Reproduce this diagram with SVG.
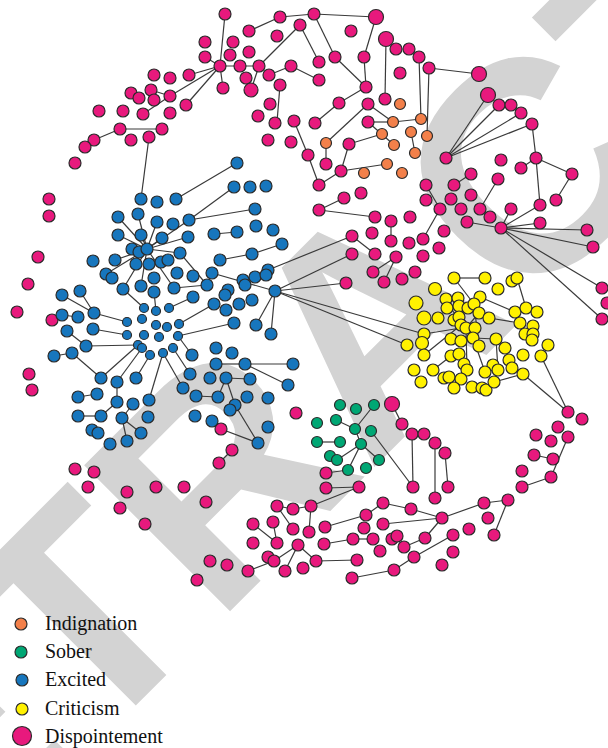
<svg xmlns="http://www.w3.org/2000/svg" width="608" height="748" viewBox="0 0 608 748">
<style>
circle{stroke:#2b2b2b;stroke-width:1.2}
.p{fill:#e8197d}.b{fill:#1776bd}.y{fill:#fff100}.g{fill:#00a774}.o{fill:#f3804a}
#edges line{stroke:#3a3a3a;stroke-width:1.2}
.wm{font-family:"Liberation Sans",Arial,sans-serif;font-weight:bold;font-size:300px;fill:#d3d3d3}
.lg{font-size:20px;fill:#111}
</style>
<rect width="608" height="748" fill="#fff"/>
<g id="watermark"><text class="wm" text-anchor="middle" transform="translate(370,320) rotate(-45)" y="107">RETRACTED</text></g>
<g id="edges">
<line x1="151" y1="90" x2="170" y2="96"/><line x1="143" y1="114" x2="170" y2="96"/><line x1="94" y1="140" x2="120" y2="129"/><line x1="120" y1="129" x2="162" y2="129"/><line x1="149" y1="137" x2="141" y2="199"/><line x1="176" y1="199" x2="237" y2="163"/>
<line x1="220" y1="66" x2="189" y2="75"/><line x1="220" y1="66" x2="170" y2="96"/><line x1="220" y1="66" x2="186" y2="105"/><line x1="220" y1="66" x2="205" y2="57"/>
<line x1="225" y1="14" x2="220" y2="66"/><line x1="249" y1="31" x2="280" y2="17"/><line x1="280" y1="17" x2="314" y2="14"/><line x1="314" y1="14" x2="376" y2="17"/><line x1="314" y1="14" x2="335" y2="57"/><line x1="376" y1="17" x2="364" y2="57"/><line x1="364" y1="57" x2="366" y2="87"/><line x1="335" y1="57" x2="366" y2="87"/><line x1="300" y1="25" x2="259" y2="66"/><line x1="300" y1="25" x2="319" y2="62"/><line x1="220" y1="66" x2="259" y2="66"/><line x1="220" y1="66" x2="223" y2="88"/><line x1="259" y1="66" x2="251" y2="90"/><line x1="269" y1="75" x2="291" y2="66"/><line x1="291" y1="66" x2="319" y2="80"/><line x1="280" y1="85" x2="277" y2="122"/><line x1="386" y1="39" x2="385" y2="99"/><line x1="366" y1="87" x2="339" y2="103"/><line x1="339" y1="103" x2="315" y2="123"/><line x1="368" y1="104" x2="326" y2="143"/><line x1="326" y1="143" x2="326" y2="164"/><line x1="294" y1="121" x2="308" y2="155"/><line x1="308" y1="155" x2="319" y2="185"/><line x1="319" y1="185" x2="341" y2="171"/><line x1="341" y1="171" x2="349" y2="144"/><line x1="349" y1="144" x2="382" y2="134"/><line x1="341" y1="171" x2="387" y2="164"/><line x1="368" y1="122" x2="393" y2="122"/><line x1="368" y1="104" x2="393" y2="122"/><line x1="368" y1="122" x2="394" y2="145"/><line x1="393" y1="122" x2="421" y2="119"/>
<line x1="419" y1="57" x2="421" y2="119"/><line x1="429" y1="68" x2="427" y2="136"/><line x1="429" y1="68" x2="479" y2="74"/><line x1="411" y1="132" x2="415" y2="153"/><line x1="446" y1="158" x2="488" y2="95"/><line x1="446" y1="158" x2="499" y2="105"/><line x1="446" y1="158" x2="521" y2="113"/><line x1="446" y1="158" x2="532" y2="124"/><line x1="532" y1="124" x2="536" y2="158"/><line x1="536" y1="158" x2="521" y2="168"/><line x1="536" y1="158" x2="572" y2="174"/><line x1="572" y1="174" x2="556" y2="200"/><line x1="536" y1="158" x2="540" y2="205"/><line x1="498" y1="179" x2="480" y2="209"/><line x1="426" y1="185" x2="440" y2="209"/><line x1="454" y1="185" x2="471" y2="174"/>
<line x1="501" y1="228" x2="540" y2="223"/><line x1="501" y1="228" x2="587" y2="230"/><line x1="501" y1="228" x2="593" y2="247"/><line x1="501" y1="228" x2="602" y2="288"/><line x1="501" y1="228" x2="602" y2="319"/><line x1="501" y1="228" x2="511" y2="209"/><line x1="501" y1="228" x2="540" y2="205"/><line x1="501" y1="228" x2="467" y2="222"/><line x1="440" y1="209" x2="423" y2="239"/>
<line x1="319" y1="210" x2="344" y2="198"/><line x1="319" y1="210" x2="375" y2="217"/><line x1="352" y1="236" x2="375" y2="254"/><line x1="373" y1="272" x2="396" y2="257"/><line x1="384" y1="282" x2="396" y2="257"/><line x1="391" y1="241" x2="391" y2="221"/>
<line x1="147" y1="249" x2="118" y2="217"/><line x1="147" y1="249" x2="138" y2="214"/><line x1="147" y1="249" x2="157" y2="222"/><line x1="147" y1="249" x2="118" y2="235"/><line x1="147" y1="249" x2="141" y2="235"/><line x1="147" y1="249" x2="115" y2="260"/><line x1="147" y1="249" x2="106" y2="274"/><line x1="147" y1="249" x2="123" y2="289"/><line x1="147" y1="249" x2="141" y2="286"/><line x1="147" y1="249" x2="174" y2="288"/><line x1="147" y1="249" x2="180" y2="253"/><line x1="147" y1="249" x2="188" y2="237"/><line x1="147" y1="249" x2="189" y2="220"/><line x1="147" y1="249" x2="162" y2="238"/>
<line x1="189" y1="220" x2="255" y2="209"/><line x1="234" y1="187" x2="189" y2="220"/><line x1="214" y1="234" x2="237" y2="232"/><line x1="220" y1="260" x2="252" y2="254"/><line x1="252" y1="254" x2="282" y2="244"/><line x1="268" y1="270" x2="352" y2="236"/><line x1="275" y1="291" x2="352" y2="254"/><line x1="275" y1="291" x2="346" y2="283"/><line x1="275" y1="291" x2="424" y2="334"/><line x1="275" y1="291" x2="407" y2="345"/><line x1="275" y1="291" x2="256" y2="325"/><line x1="275" y1="291" x2="271" y2="334"/><line x1="275" y1="291" x2="212" y2="273"/>
<line x1="180" y1="253" x2="207" y2="285"/><line x1="174" y1="288" x2="207" y2="285"/><line x1="144" y1="308" x2="123" y2="289"/><line x1="154" y1="292" x2="156" y2="311"/><line x1="169" y1="308" x2="193" y2="297"/><line x1="179" y1="324" x2="214" y2="304"/><line x1="178" y1="336" x2="234" y2="323"/><line x1="62" y1="295" x2="94" y2="313"/><line x1="80" y1="291" x2="94" y2="313"/><line x1="94" y1="313" x2="127" y2="322"/><line x1="62" y1="315" x2="78" y2="317"/><line x1="67" y1="331" x2="86" y2="346"/><line x1="93" y1="329" x2="127" y2="335"/><line x1="86" y1="346" x2="138" y2="345"/><line x1="54" y1="356" x2="72" y2="353"/><line x1="72" y1="353" x2="101" y2="378"/><line x1="101" y1="378" x2="138" y2="345"/><line x1="117" y1="382" x2="142" y2="348"/><line x1="136" y1="378" x2="150" y2="355"/><line x1="163" y1="353" x2="149" y2="400"/><line x1="163" y1="353" x2="183" y2="388"/><line x1="173" y1="348" x2="190" y2="374"/><line x1="178" y1="336" x2="192" y2="355"/><line x1="78" y1="397" x2="97" y2="394"/><line x1="117" y1="382" x2="117" y2="402"/><line x1="196" y1="396" x2="218" y2="397"/><line x1="216" y1="364" x2="245" y2="364"/><line x1="245" y1="364" x2="293" y2="364"/><line x1="245" y1="364" x2="288" y2="385"/><line x1="226" y1="378" x2="250" y2="379"/><line x1="226" y1="378" x2="218" y2="397"/><line x1="226" y1="378" x2="235" y2="405"/><line x1="78" y1="416" x2="101" y2="416"/><line x1="101" y1="416" x2="117" y2="402"/><line x1="122" y1="418" x2="127" y2="441"/><line x1="122" y1="418" x2="141" y2="433"/><line x1="122" y1="418" x2="133" y2="404"/><line x1="235" y1="405" x2="258" y2="443"/><line x1="221" y1="429" x2="258" y2="443"/><line x1="232" y1="450" x2="219" y2="463"/>
<line x1="336" y1="420" x2="355" y2="429"/><line x1="374" y1="405" x2="355" y2="429"/><line x1="317" y1="442" x2="340" y2="442"/><line x1="355" y1="429" x2="361" y2="444"/><line x1="361" y1="444" x2="337" y2="460"/><line x1="361" y1="444" x2="348" y2="470"/><line x1="361" y1="444" x2="379" y2="460"/><line x1="371" y1="431" x2="413" y2="487"/><line x1="326" y1="473" x2="348" y2="470"/><line x1="326" y1="488" x2="359" y2="487"/><line x1="359" y1="487" x2="311" y2="506"/>
<line x1="277" y1="506" x2="293" y2="509"/><line x1="293" y1="509" x2="311" y2="506"/><line x1="311" y1="506" x2="309" y2="532"/><line x1="273" y1="522" x2="277" y2="543"/><line x1="253" y1="524" x2="277" y2="543"/><line x1="277" y1="506" x2="293" y2="529"/><line x1="298" y1="545" x2="285" y2="571"/><line x1="298" y1="545" x2="274" y2="561"/><line x1="298" y1="545" x2="316" y2="561"/><line x1="248" y1="571" x2="274" y2="561"/><line x1="325" y1="527" x2="366" y2="515"/><line x1="366" y1="515" x2="383" y2="503"/><line x1="383" y1="503" x2="411" y2="509"/><line x1="383" y1="524" x2="442" y2="518"/><line x1="324" y1="544" x2="353" y2="539"/><line x1="353" y1="539" x2="373" y2="539"/><line x1="316" y1="561" x2="357" y2="560"/><line x1="352" y1="578" x2="394" y2="570"/><line x1="394" y1="570" x2="414" y2="557"/><line x1="392" y1="404" x2="402" y2="424"/>
<line x1="412" y1="434" x2="413" y2="487"/><line x1="435" y1="443" x2="435" y2="498"/><line x1="445" y1="453" x2="448" y2="487"/><line x1="411" y1="509" x2="442" y2="518"/><line x1="442" y1="518" x2="484" y2="503"/><line x1="484" y1="503" x2="508" y2="500"/><line x1="508" y1="500" x2="494" y2="535"/><line x1="442" y1="518" x2="425" y2="538"/><line x1="425" y1="538" x2="404" y2="547"/><line x1="414" y1="557" x2="453" y2="535"/><line x1="522" y1="487" x2="551" y2="477"/><line x1="551" y1="477" x2="568" y2="437"/><line x1="534" y1="455" x2="553" y2="459"/>
<line x1="454" y1="278" x2="485" y2="278"/><line x1="454" y1="278" x2="474" y2="304"/><line x1="517" y1="278" x2="526" y2="308"/><line x1="480" y1="297" x2="515" y2="312"/><line x1="489" y1="318" x2="520" y2="323"/><line x1="424" y1="334" x2="461" y2="328"/><line x1="424" y1="355" x2="461" y2="325"/><line x1="473" y1="338" x2="485" y2="372"/><line x1="466" y1="328" x2="467" y2="370"/><line x1="473" y1="338" x2="496" y2="339"/><line x1="496" y1="339" x2="498" y2="370"/><line x1="523" y1="374" x2="494" y2="382"/><line x1="523" y1="374" x2="568" y2="412"/><line x1="541" y1="356" x2="568" y2="412"/><line x1="433" y1="370" x2="451" y2="356"/><line x1="446" y1="299" x2="461" y2="325"/><line x1="474" y1="304" x2="479" y2="346"/><line x1="479" y1="313" x2="466" y2="328"/>
</g>
<g id="pink">
<g id="p1"><circle class="p" cx="154" cy="75" r="6"/></g><g id="p2"><circle class="p" cx="170" cy="78" r="6"/></g><g id="p3"><circle class="p" cx="189" cy="75" r="6"/></g><g id="p4"><circle class="p" cx="131" cy="93" r="6"/></g><g id="p5"><circle class="p" cx="139" cy="98" r="6"/></g><g id="p6"><circle class="p" cx="151" cy="90" r="6"/></g><g id="p7"><circle class="p" cx="154" cy="100" r="6"/></g><g id="p8"><circle class="p" cx="170" cy="96" r="6"/></g><g id="p9"><circle class="p" cx="186" cy="105" r="6"/></g><g id="p10"><circle class="p" cx="99" cy="111" r="6"/></g><g id="p11"><circle class="p" cx="123" cy="111" r="6"/></g><g id="p12"><circle class="p" cx="143" cy="114" r="6"/></g><g id="p13"><circle class="p" cx="170" cy="113" r="6"/></g><g id="p14"><circle class="p" cx="120" cy="129" r="6"/></g><g id="p15"><circle class="p" cx="162" cy="129" r="6"/></g><g id="p16"><circle class="p" cx="94" cy="140" r="6"/></g><g id="p17"><circle class="p" cx="85" cy="147" r="6"/></g><g id="p18"><circle class="p" cx="131" cy="140" r="6"/></g><g id="p19"><circle class="p" cx="149" cy="137" r="6"/></g><g id="p20"><circle class="p" cx="75" cy="163" r="6"/></g><g id="p21"><circle class="p" cx="49" cy="199" r="6"/></g>
<g id="p22"><circle class="p" cx="225" cy="14" r="6"/></g><g id="p23"><circle class="p" cx="280" cy="17" r="6"/></g><g id="p24"><circle class="p" cx="314" cy="14" r="6"/></g><g id="p25"><circle class="p" cx="376" cy="17" r="7.5"/></g><g id="p26"><circle class="p" cx="249" cy="31" r="6"/></g><g id="p27"><circle class="p" cx="300" cy="25" r="6"/></g><g id="p28"><circle class="p" cx="351" cy="31" r="6"/></g><g id="p29"><circle class="p" cx="277" cy="36" r="6"/></g><g id="p30"><circle class="p" cx="386" cy="39" r="7.5"/></g><g id="p31"><circle class="p" cx="396" cy="49" r="6"/></g><g id="p32"><circle class="p" cx="409" cy="49" r="6"/></g><g id="p33"><circle class="p" cx="205" cy="42" r="6"/></g><g id="p34"><circle class="p" cx="233" cy="42" r="6"/></g><g id="p35"><circle class="p" cx="249" cy="52" r="6"/></g><g id="p36"><circle class="p" cx="230" cy="55" r="6"/></g><g id="p37"><circle class="p" cx="205" cy="57" r="6"/></g><g id="p38"><circle class="p" cx="220" cy="66" r="6"/></g><g id="p39"><circle class="p" cx="240" cy="66" r="6"/></g><g id="p40"><circle class="p" cx="259" cy="66" r="6"/></g><g id="p41"><circle class="p" cx="291" cy="66" r="6"/></g><g id="p42"><circle class="p" cx="319" cy="62" r="6"/></g><g id="p43"><circle class="p" cx="335" cy="57" r="6"/></g><g id="p44"><circle class="p" cx="364" cy="57" r="6"/></g><g id="p45"><circle class="p" cx="400" cy="73" r="6"/></g><g id="p46"><circle class="p" cx="269" cy="75" r="6"/></g><g id="p47"><circle class="p" cx="280" cy="85" r="6"/></g><g id="p48"><circle class="p" cx="246" cy="78" r="6"/></g><g id="p49"><circle class="p" cx="223" cy="88" r="6"/></g><g id="p50"><circle class="p" cx="251" cy="90" r="7"/></g><g id="p51"><circle class="p" cx="319" cy="80" r="6"/></g><g id="p52"><circle class="p" cx="366" cy="87" r="6"/></g><g id="p53"><circle class="p" cx="385" cy="99" r="6"/></g><g id="p54"><circle class="p" cx="270" cy="104" r="6"/></g><g id="p55"><circle class="p" cx="258" cy="116" r="6"/></g><g id="p56"><circle class="p" cx="275" cy="123" r="6"/></g><g id="p57"><circle class="p" cx="294" cy="121" r="6"/></g><g id="p58"><circle class="p" cx="315" cy="123" r="6"/></g><g id="p59"><circle class="p" cx="339" cy="103" r="6"/></g><g id="p60"><circle class="p" cx="368" cy="104" r="6"/></g><g id="p61"><circle class="p" cx="368" cy="122" r="6"/></g><g id="p62"><circle class="p" cx="268" cy="140" r="6"/></g><g id="p63"><circle class="p" cx="291" cy="142" r="6"/></g><g id="p64"><circle class="p" cx="349" cy="144" r="6"/></g><g id="p65"><circle class="p" cx="308" cy="155" r="6"/></g><g id="p66"><circle class="p" cx="326" cy="164" r="6"/></g><g id="p67"><circle class="p" cx="341" cy="171" r="6"/></g><g id="p68"><circle class="p" cx="319" cy="185" r="6"/></g><g id="p69"><circle class="p" cx="344" cy="198" r="6"/></g><g id="p70"><circle class="p" cx="361" cy="193" r="6"/></g>
<g id="p71"><circle class="p" cx="419" cy="57" r="6"/></g><g id="p72"><circle class="p" cx="429" cy="68" r="6"/></g><g id="p73"><circle class="p" cx="479" cy="74" r="7.5"/></g><g id="p74"><circle class="p" cx="488" cy="95" r="7.5"/></g><g id="p75"><circle class="p" cx="499" cy="105" r="6"/></g><g id="p76"><circle class="p" cx="511" cy="105" r="6"/></g><g id="p77"><circle class="p" cx="521" cy="113" r="6"/></g><g id="p78"><circle class="p" cx="532" cy="124" r="6"/></g><g id="p79"><circle class="p" cx="446" cy="158" r="6"/></g><g id="p80"><circle class="p" cx="501" cy="160" r="6"/></g><g id="p81"><circle class="p" cx="536" cy="158" r="6"/></g><g id="p82"><circle class="p" cx="521" cy="168" r="6"/></g><g id="p83"><circle class="p" cx="572" cy="174" r="6"/></g><g id="p84"><circle class="p" cx="471" cy="174" r="6"/></g><g id="p85"><circle class="p" cx="454" cy="185" r="6"/></g><g id="p86"><circle class="p" cx="426" cy="185" r="6"/></g><g id="p87"><circle class="p" cx="498" cy="179" r="6"/></g><g id="p88"><circle class="p" cx="471" cy="195" r="6"/></g><g id="p89"><circle class="p" cx="451" cy="199" r="6"/></g><g id="p90"><circle class="p" cx="426" cy="200" r="6"/></g><g id="p91"><circle class="p" cx="556" cy="200" r="6"/></g>
<g id="p92"><circle class="p" cx="440" cy="209" r="6"/></g><g id="p93"><circle class="p" cx="461" cy="209" r="6"/></g><g id="p94"><circle class="p" cx="480" cy="209" r="6"/></g><g id="p95"><circle class="p" cx="490" cy="217" r="6"/></g><g id="p96"><circle class="p" cx="511" cy="209" r="6"/></g><g id="p97"><circle class="p" cx="540" cy="205" r="6"/></g><g id="p98"><circle class="p" cx="410" cy="217" r="6"/></g><g id="p99"><circle class="p" cx="467" cy="222" r="6"/></g><g id="p100"><circle class="p" cx="501" cy="228" r="6"/></g><g id="p101"><circle class="p" cx="540" cy="223" r="6"/></g><g id="p102"><circle class="p" cx="587" cy="230" r="6"/></g><g id="p103"><circle class="p" cx="593" cy="247" r="6"/></g><g id="p104"><circle class="p" cx="444" cy="231" r="6"/></g><g id="p105"><circle class="p" cx="423" cy="239" r="6"/></g><g id="p106"><circle class="p" cx="409" cy="243" r="6"/></g><g id="p107"><circle class="p" cx="439" cy="248" r="6"/></g><g id="p108"><circle class="p" cx="423" cy="256" r="6"/></g><g id="p109"><circle class="p" cx="415" cy="272" r="6"/></g><g id="p110"><circle class="p" cx="402" cy="279" r="6"/></g><g id="p111"><circle class="p" cx="602" cy="288" r="6"/></g><g id="p112"><circle class="p" cx="607" cy="303" r="6"/></g><g id="p113"><circle class="p" cx="602" cy="319" r="6"/></g>
<g id="p114"><circle class="p" cx="319" cy="210" r="6"/></g><g id="p115"><circle class="p" cx="375" cy="217" r="6"/></g><g id="p116"><circle class="p" cx="391" cy="221" r="6"/></g><g id="p117"><circle class="p" cx="352" cy="236" r="6"/></g><g id="p118"><circle class="p" cx="372" cy="233" r="6"/></g><g id="p119"><circle class="p" cx="391" cy="241" r="6"/></g><g id="p120"><circle class="p" cx="352" cy="254" r="6"/></g><g id="p121"><circle class="p" cx="375" cy="254" r="6"/></g><g id="p122"><circle class="p" cx="396" cy="257" r="6"/></g><g id="p123"><circle class="p" cx="373" cy="272" r="6"/></g><g id="p124"><circle class="p" cx="384" cy="282" r="6"/></g><g id="p125"><circle class="p" cx="346" cy="283" r="6"/></g>
<g id="p126"><circle class="p" cx="49" cy="216" r="6"/></g><g id="p127"><circle class="p" cx="38" cy="257" r="6"/></g><g id="p128"><circle class="p" cx="28" cy="284" r="6"/></g><g id="p129"><circle class="p" cx="17" cy="312" r="6"/></g><g id="p130"><circle class="p" cx="52" cy="320" r="6"/></g><g id="p131"><circle class="p" cx="29" cy="374" r="6"/></g><g id="p132"><circle class="p" cx="32" cy="390" r="6"/></g>
<g id="p133"><circle class="p" cx="75" cy="469" r="6"/></g><g id="p134"><circle class="p" cx="94" cy="472" r="6"/></g><g id="p135"><circle class="p" cx="88" cy="487" r="6"/></g><g id="p136"><circle class="p" cx="127" cy="492" r="6"/></g><g id="p137"><circle class="p" cx="156" cy="487" r="6"/></g><g id="p138"><circle class="p" cx="184" cy="487" r="6"/></g><g id="p139"><circle class="p" cx="120" cy="508" r="6"/></g><g id="p140"><circle class="p" cx="145" cy="524" r="6"/></g><g id="p141"><circle class="p" cx="197" cy="580" r="6"/></g><g id="p142"><circle class="p" cx="206" cy="502" r="6"/></g>
<g id="p143"><circle class="p" cx="296" cy="413" r="6"/></g><g id="p144"><circle class="p" cx="221" cy="429" r="6"/></g><g id="p145"><circle class="p" cx="232" cy="450" r="6"/></g><g id="p146"><circle class="p" cx="219" cy="463" r="6"/></g><g id="p147"><circle class="p" cx="392" cy="404" r="7.5"/></g><g id="p148"><circle class="p" cx="402" cy="424" r="6"/></g><g id="p149"><circle class="p" cx="277" cy="506" r="6"/></g><g id="p150"><circle class="p" cx="293" cy="509" r="6"/></g><g id="p151"><circle class="p" cx="311" cy="506" r="6"/></g><g id="p152"><circle class="p" cx="383" cy="503" r="6"/></g><g id="p153"><circle class="p" cx="253" cy="524" r="6"/></g><g id="p154"><circle class="p" cx="273" cy="522" r="6"/></g><g id="p155"><circle class="p" cx="293" cy="529" r="6"/></g><g id="p156"><circle class="p" cx="309" cy="532" r="6"/></g><g id="p157"><circle class="p" cx="325" cy="527" r="6"/></g><g id="p158"><circle class="p" cx="366" cy="515" r="6"/></g><g id="p159"><circle class="p" cx="383" cy="524" r="6"/></g><g id="p160"><circle class="p" cx="364" cy="528" r="6"/></g><g id="p161"><circle class="p" cx="253" cy="543" r="6"/></g><g id="p162"><circle class="p" cx="277" cy="543" r="6"/></g><g id="p163"><circle class="p" cx="298" cy="545" r="6"/></g><g id="p164"><circle class="p" cx="324" cy="544" r="6"/></g><g id="p165"><circle class="p" cx="353" cy="539" r="6"/></g><g id="p166"><circle class="p" cx="373" cy="539" r="6"/></g><g id="p167"><circle class="p" cx="392" cy="539" r="6"/></g><g id="p168"><circle class="p" cx="397" cy="536" r="6"/></g><g id="p169"><circle class="p" cx="380" cy="551" r="6"/></g><g id="p170"><circle class="p" cx="268" cy="557" r="6"/></g><g id="p171"><circle class="p" cx="274" cy="561" r="6"/></g><g id="p172"><circle class="p" cx="210" cy="561" r="6"/></g><g id="p173"><circle class="p" cx="227" cy="565" r="6"/></g><g id="p174"><circle class="p" cx="248" cy="571" r="6"/></g><g id="p175"><circle class="p" cx="285" cy="571" r="6"/></g><g id="p176"><circle class="p" cx="303" cy="568" r="6"/></g><g id="p177"><circle class="p" cx="316" cy="561" r="6"/></g><g id="p178"><circle class="p" cx="357" cy="560" r="6"/></g><g id="p179"><circle class="p" cx="394" cy="570" r="6"/></g><g id="p180"><circle class="p" cx="352" cy="578" r="6"/></g><g id="p181"><circle class="p" cx="326" cy="473" r="6"/></g><g id="p182"><circle class="p" cx="326" cy="488" r="6"/></g><g id="p183"><circle class="p" cx="359" cy="487" r="6"/></g>
<g id="p184"><circle class="p" cx="568" cy="412" r="6"/></g><g id="p185"><circle class="p" cx="582" cy="419" r="6"/></g><g id="p186"><circle class="p" cx="558" cy="427" r="6"/></g><g id="p187"><circle class="p" cx="536" cy="435" r="6"/></g><g id="p188"><circle class="p" cx="551" cy="441" r="6"/></g><g id="p189"><circle class="p" cx="568" cy="437" r="6"/></g><g id="p190"><circle class="p" cx="534" cy="455" r="6"/></g><g id="p191"><circle class="p" cx="553" cy="459" r="6"/></g><g id="p192"><circle class="p" cx="522" cy="471" r="6"/></g><g id="p193"><circle class="p" cx="551" cy="477" r="6"/></g><g id="p194"><circle class="p" cx="522" cy="487" r="6"/></g><g id="p195"><circle class="p" cx="412" cy="434" r="6"/></g><g id="p196"><circle class="p" cx="424" cy="434" r="6"/></g><g id="p197"><circle class="p" cx="435" cy="443" r="6"/></g><g id="p198"><circle class="p" cx="445" cy="453" r="6"/></g><g id="p199"><circle class="p" cx="413" cy="487" r="6"/></g><g id="p200"><circle class="p" cx="448" cy="487" r="6"/></g><g id="p201"><circle class="p" cx="435" cy="498" r="6"/></g><g id="p202"><circle class="p" cx="411" cy="509" r="6"/></g><g id="p203"><circle class="p" cx="442" cy="518" r="6"/></g><g id="p204"><circle class="p" cx="484" cy="503" r="6"/></g><g id="p205"><circle class="p" cx="508" cy="500" r="6"/></g><g id="p206"><circle class="p" cx="488" cy="518" r="6"/></g><g id="p207"><circle class="p" cx="469" cy="529" r="6"/></g><g id="p208"><circle class="p" cx="494" cy="535" r="6"/></g><g id="p209"><circle class="p" cx="453" cy="535" r="6"/></g><g id="p210"><circle class="p" cx="425" cy="538" r="6"/></g><g id="p211"><circle class="p" cx="453" cy="552" r="6"/></g><g id="p212"><circle class="p" cx="414" cy="557" r="6"/></g><g id="p213"><circle class="p" cx="442" cy="565" r="6"/></g><g id="p214"><circle class="p" cx="404" cy="547" r="6"/></g>
</g>
<g id="orange">
<g id="o1"><circle class="o" cx="400" cy="104" r="5.5"/></g><g id="o2"><circle class="o" cx="393" cy="122" r="5.5"/></g><g id="o3"><circle class="o" cx="382" cy="134" r="5.5"/></g><g id="o4"><circle class="o" cx="394" cy="145" r="5.5"/></g><g id="o5"><circle class="o" cx="326" cy="143" r="5.5"/></g><g id="o6"><circle class="o" cx="364" cy="173" r="5.5"/></g><g id="o7"><circle class="o" cx="387" cy="164" r="5.5"/></g><g id="o8"><circle class="o" cx="402" cy="173" r="5.5"/></g><g id="o9"><circle class="o" cx="421" cy="119" r="5.5"/></g><g id="o10"><circle class="o" cx="411" cy="132" r="5.5"/></g><g id="o11"><circle class="o" cx="427" cy="136" r="5.5"/></g><g id="o12"><circle class="o" cx="415" cy="153" r="5.5"/></g>
</g>
<g id="blue">
<g id="b1"><circle class="b" cx="141" cy="199" r="6"/></g><g id="b2"><circle class="b" cx="157" cy="202" r="6"/></g><g id="b3"><circle class="b" cx="176" cy="199" r="6"/></g><g id="b4"><circle class="b" cx="237" cy="163" r="6"/></g><g id="b5"><circle class="b" cx="234" cy="187" r="6"/></g><g id="b6"><circle class="b" cx="250" cy="187" r="6"/></g><g id="b7"><circle class="b" cx="266" cy="186" r="6"/></g>
<g id="b8"><circle class="b" cx="118" cy="217" r="6"/></g><g id="b9"><circle class="b" cx="138" cy="214" r="6"/></g><g id="b10"><circle class="b" cx="157" cy="222" r="6"/></g><g id="b11"><circle class="b" cx="173" cy="224" r="6"/></g><g id="b12"><circle class="b" cx="189" cy="220" r="6"/></g><g id="b13"><circle class="b" cx="118" cy="235" r="6"/></g><g id="b14"><circle class="b" cx="141" cy="235" r="6"/></g><g id="b15"><circle class="b" cx="162" cy="238" r="6"/></g><g id="b16"><circle class="b" cx="188" cy="237" r="6"/></g><g id="b17"><circle class="b" cx="214" cy="234" r="6"/></g><g id="b18"><circle class="b" cx="132" cy="249" r="6"/></g><g id="b19"><circle class="b" cx="139" cy="252" r="6"/></g><g id="b20"><circle class="b" cx="147" cy="249" r="6"/></g><g id="b21"><circle class="b" cx="180" cy="253" r="6"/></g><g id="b22"><circle class="b" cx="93" cy="261" r="6"/></g><g id="b23"><circle class="b" cx="115" cy="260" r="6"/></g><g id="b24"><circle class="b" cx="136" cy="264" r="6"/></g><g id="b25"><circle class="b" cx="149" cy="264" r="6"/></g><g id="b26"><circle class="b" cx="161" cy="262" r="6"/></g><g id="b27"><circle class="b" cx="168" cy="260" r="6"/></g><g id="b28"><circle class="b" cx="106" cy="274" r="6"/></g><g id="b29"><circle class="b" cx="112" cy="278" r="6"/></g><g id="b30"><circle class="b" cx="154" cy="278" r="6"/></g><g id="b31"><circle class="b" cx="177" cy="273" r="6"/></g><g id="b32"><circle class="b" cx="193" cy="276" r="6"/></g><g id="b33"><circle class="b" cx="212" cy="273" r="6"/></g><g id="b34"><circle class="b" cx="123" cy="289" r="6"/></g><g id="b35"><circle class="b" cx="141" cy="286" r="6"/></g><g id="b36"><circle class="b" cx="154" cy="292" r="6"/></g><g id="b37"><circle class="b" cx="174" cy="288" r="6"/></g><g id="b38"><circle class="b" cx="207" cy="285" r="6"/></g><g id="b39"><circle class="b" cx="62" cy="295" r="6"/></g><g id="b40"><circle class="b" cx="80" cy="291" r="6"/></g><g id="b41"><circle class="b" cx="193" cy="297" r="6"/></g><g id="b42"><circle class="b" cx="214" cy="304" r="6"/></g><g id="b43"><circle class="b" cx="94" cy="313" r="6"/></g><g id="b44"><circle class="b" cx="62" cy="315" r="6"/></g><g id="b45"><circle class="b" cx="78" cy="317" r="6"/></g><g id="b46"><circle class="b" cx="67" cy="331" r="6"/></g><g id="b47"><circle class="b" cx="93" cy="329" r="6"/></g><g id="b48"><circle class="b" cx="86" cy="346" r="6"/></g><g id="b49"><circle class="b" cx="54" cy="356" r="6"/></g><g id="b50"><circle class="b" cx="72" cy="353" r="6"/></g>
<g id="b51"><circle class="b" cx="144" cy="308" r="4.5"/></g><g id="b52"><circle class="b" cx="156" cy="311" r="4.5"/></g><g id="b53"><circle class="b" cx="169" cy="308" r="4.5"/></g><g id="b54"><circle class="b" cx="127" cy="322" r="4.5"/></g><g id="b55"><circle class="b" cx="142" cy="319" r="4.5"/></g><g id="b56"><circle class="b" cx="156" cy="325" r="4.5"/></g><g id="b57"><circle class="b" cx="167" cy="327" r="4.5"/></g><g id="b58"><circle class="b" cx="179" cy="324" r="4.5"/></g><g id="b59"><circle class="b" cx="127" cy="335" r="4.5"/></g><g id="b60"><circle class="b" cx="144" cy="335" r="4.5"/></g><g id="b61"><circle class="b" cx="159" cy="337" r="4.5"/></g><g id="b62"><circle class="b" cx="178" cy="336" r="4.5"/></g><g id="b63"><circle class="b" cx="138" cy="345" r="4.5"/></g><g id="b64"><circle class="b" cx="142" cy="348" r="4.5"/></g><g id="b65"><circle class="b" cx="150" cy="355" r="4.5"/></g><g id="b66"><circle class="b" cx="163" cy="353" r="4.5"/></g><g id="b67"><circle class="b" cx="173" cy="348" r="4.5"/></g>
<g id="b68"><circle class="b" cx="192" cy="355" r="6"/></g><g id="b69"><circle class="b" cx="216" cy="348" r="6"/></g><g id="b70"><circle class="b" cx="101" cy="378" r="6"/></g><g id="b71"><circle class="b" cx="117" cy="382" r="6"/></g><g id="b72"><circle class="b" cx="136" cy="378" r="6"/></g><g id="b73"><circle class="b" cx="190" cy="374" r="6"/></g><g id="b74"><circle class="b" cx="210" cy="378" r="6"/></g><g id="b75"><circle class="b" cx="97" cy="394" r="6"/></g><g id="b76"><circle class="b" cx="78" cy="397" r="6"/></g><g id="b77"><circle class="b" cx="117" cy="402" r="6"/></g><g id="b78"><circle class="b" cx="133" cy="404" r="6"/></g><g id="b79"><circle class="b" cx="149" cy="400" r="6"/></g><g id="b80"><circle class="b" cx="183" cy="388" r="6"/></g><g id="b81"><circle class="b" cx="196" cy="396" r="6"/></g><g id="b82"><circle class="b" cx="218" cy="397" r="6"/></g><g id="b83"><circle class="b" cx="216" cy="364" r="6"/></g>
<g id="b84"><circle class="b" cx="255" cy="209" r="6"/></g><g id="b85"><circle class="b" cx="256" cy="226" r="6"/></g><g id="b86"><circle class="b" cx="273" cy="230" r="6"/></g><g id="b87"><circle class="b" cx="237" cy="232" r="6"/></g><g id="b88"><circle class="b" cx="282" cy="244" r="6"/></g><g id="b89"><circle class="b" cx="252" cy="254" r="6"/></g><g id="b90"><circle class="b" cx="220" cy="260" r="6"/></g><g id="b91"><circle class="b" cx="268" cy="270" r="6"/></g><g id="b92"><circle class="b" cx="255" cy="277" r="6"/></g><g id="b93"><circle class="b" cx="266" cy="275" r="6"/></g><g id="b94"><circle class="b" cx="243" cy="280" r="6"/></g><g id="b95"><circle class="b" cx="245" cy="285" r="6"/></g><g id="b96"><circle class="b" cx="228" cy="290" r="6"/></g><g id="b97"><circle class="b" cx="225" cy="295" r="6"/></g><g id="b98"><circle class="b" cx="275" cy="291" r="6"/></g><g id="b99"><circle class="b" cx="252" cy="300" r="6"/></g><g id="b100"><circle class="b" cx="239" cy="304" r="6"/></g><g id="b101"><circle class="b" cx="226" cy="310" r="6"/></g><g id="b102"><circle class="b" cx="234" cy="323" r="6"/></g><g id="b103"><circle class="b" cx="256" cy="325" r="6"/></g><g id="b104"><circle class="b" cx="271" cy="334" r="6"/></g><g id="b105"><circle class="b" cx="232" cy="353" r="6"/></g><g id="b106"><circle class="b" cx="245" cy="364" r="6"/></g><g id="b107"><circle class="b" cx="293" cy="364" r="6"/></g><g id="b108"><circle class="b" cx="226" cy="378" r="6"/></g><g id="b109"><circle class="b" cx="250" cy="379" r="6"/></g><g id="b110"><circle class="b" cx="288" cy="385" r="6"/></g><g id="b111"><circle class="b" cx="247" cy="397" r="6"/></g><g id="b112"><circle class="b" cx="268" cy="398" r="6"/></g>
<g id="b113"><circle class="b" cx="78" cy="416" r="6"/></g><g id="b114"><circle class="b" cx="101" cy="416" r="6"/></g><g id="b115"><circle class="b" cx="122" cy="418" r="6"/></g><g id="b116"><circle class="b" cx="148" cy="417" r="6"/></g><g id="b117"><circle class="b" cx="92" cy="430" r="6"/></g><g id="b118"><circle class="b" cx="98" cy="433" r="6"/></g><g id="b119"><circle class="b" cx="141" cy="433" r="6"/></g><g id="b120"><circle class="b" cx="110" cy="444" r="6"/></g><g id="b121"><circle class="b" cx="127" cy="441" r="6"/></g><g id="b122"><circle class="b" cx="195" cy="416" r="6"/></g><g id="b123"><circle class="b" cx="235" cy="405" r="6"/></g><g id="b124"><circle class="b" cx="230" cy="410" r="6"/></g><g id="b125"><circle class="b" cx="212" cy="421" r="6"/></g><g id="b126"><circle class="b" cx="268" cy="427" r="6"/></g><g id="b127"><circle class="b" cx="258" cy="443" r="6"/></g>
</g>
<g id="green">
<g id="g1"><circle class="g" cx="340" cy="405" r="5.5"/></g><g id="g2"><circle class="g" cx="356" cy="409" r="5.5"/></g><g id="g3"><circle class="g" cx="374" cy="405" r="5.5"/></g><g id="g4"><circle class="g" cx="336" cy="420" r="5.5"/></g><g id="g5"><circle class="g" cx="317" cy="423" r="5.5"/></g><g id="g6"><circle class="g" cx="355" cy="429" r="5.5"/></g><g id="g7"><circle class="g" cx="371" cy="431" r="5.5"/></g><g id="g8"><circle class="g" cx="317" cy="442" r="5.5"/></g><g id="g9"><circle class="g" cx="340" cy="442" r="5.5"/></g><g id="g10"><circle class="g" cx="361" cy="444" r="5.5"/></g><g id="g11"><circle class="g" cx="330" cy="456" r="5.5"/></g><g id="g12"><circle class="g" cx="337" cy="460" r="5.5"/></g><g id="g13"><circle class="g" cx="379" cy="460" r="5.5"/></g><g id="g14"><circle class="g" cx="366" cy="468" r="5.5"/></g><g id="g15"><circle class="g" cx="348" cy="470" r="5.5"/></g>
</g>
<g id="yellow">
<g id="y1"><circle class="y" cx="454" cy="278" r="6"/></g><g id="y2"><circle class="y" cx="485" cy="278" r="6"/></g><g id="y3"><circle class="y" cx="512" cy="281" r="6"/></g><g id="y4"><circle class="y" cx="517" cy="278" r="6"/></g><g id="y5"><circle class="y" cx="435" cy="289" r="6.5"/></g><g id="y6"><circle class="y" cx="498" cy="289" r="6"/></g><g id="y7"><circle class="y" cx="416" cy="303" r="7"/></g><g id="y8"><circle class="y" cx="446" cy="299" r="6"/></g><g id="y9"><circle class="y" cx="458" cy="298" r="6"/></g><g id="y10"><circle class="y" cx="480" cy="297" r="6"/></g><g id="y11"><circle class="y" cx="447" cy="308" r="6"/></g><g id="y12"><circle class="y" cx="459" cy="306" r="6"/></g><g id="y13"><circle class="y" cx="468" cy="308" r="6"/></g><g id="y14"><circle class="y" cx="474" cy="304" r="6"/></g><g id="y15"><circle class="y" cx="424" cy="318" r="7"/></g><g id="y16"><circle class="y" cx="438" cy="318" r="6"/></g><g id="y17"><circle class="y" cx="454" cy="320" r="6"/></g><g id="y18"><circle class="y" cx="459" cy="317" r="6"/></g><g id="y19"><circle class="y" cx="479" cy="313" r="6"/></g><g id="y20"><circle class="y" cx="489" cy="318" r="6"/></g><g id="y21"><circle class="y" cx="515" cy="312" r="6"/></g><g id="y22"><circle class="y" cx="526" cy="308" r="6"/></g><g id="y23"><circle class="y" cx="537" cy="312" r="6"/></g><g id="y24"><circle class="y" cx="461" cy="325" r="6"/></g><g id="y25"><circle class="y" cx="466" cy="328" r="6"/></g><g id="y26"><circle class="y" cx="475" cy="328" r="6"/></g><g id="y27"><circle class="y" cx="520" cy="323" r="6"/></g><g id="y28"><circle class="y" cx="533" cy="326" r="6"/></g><g id="y29"><circle class="y" cx="424" cy="334" r="6"/></g><g id="y30"><circle class="y" cx="422" cy="343" r="6.5"/></g><g id="y31"><circle class="y" cx="451" cy="339" r="6"/></g><g id="y32"><circle class="y" cx="461" cy="341" r="6"/></g><g id="y33"><circle class="y" cx="473" cy="338" r="6"/></g><g id="y34"><circle class="y" cx="479" cy="346" r="6"/></g><g id="y35"><circle class="y" cx="496" cy="339" r="6"/></g><g id="y36"><circle class="y" cx="525" cy="334" r="6"/></g><g id="y37"><circle class="y" cx="533" cy="334" r="6"/></g><g id="y38"><circle class="y" cx="532" cy="340" r="6"/></g><g id="y39"><circle class="y" cx="407" cy="345" r="6"/></g><g id="y40"><circle class="y" cx="505" cy="348" r="6"/></g><g id="y41"><circle class="y" cx="548" cy="345" r="6"/></g><g id="y42"><circle class="y" cx="424" cy="355" r="6"/></g><g id="y43"><circle class="y" cx="451" cy="356" r="6"/></g><g id="y44"><circle class="y" cx="459" cy="354" r="6"/></g><g id="y45"><circle class="y" cx="523" cy="355" r="6"/></g><g id="y46"><circle class="y" cx="541" cy="356" r="6"/></g><g id="y47"><circle class="y" cx="509" cy="360" r="6"/></g><g id="y48"><circle class="y" cx="414" cy="370" r="6"/></g><g id="y49"><circle class="y" cx="433" cy="370" r="6"/></g><g id="y50"><circle class="y" cx="464" cy="364" r="6"/></g><g id="y51"><circle class="y" cx="467" cy="370" r="6"/></g><g id="y52"><circle class="y" cx="493" cy="365" r="6"/></g><g id="y53"><circle class="y" cx="498" cy="370" r="6"/></g><g id="y54"><circle class="y" cx="512" cy="368" r="6"/></g><g id="y55"><circle class="y" cx="485" cy="372" r="6"/></g><g id="y56"><circle class="y" cx="523" cy="374" r="6"/></g><g id="y57"><circle class="y" cx="444" cy="378" r="6"/></g><g id="y58"><circle class="y" cx="449" cy="377" r="6"/></g><g id="y59"><circle class="y" cx="461" cy="379" r="6"/></g><g id="y60"><circle class="y" cx="421" cy="382" r="6"/></g><g id="y61"><circle class="y" cx="454" cy="388" r="6"/></g><g id="y62"><circle class="y" cx="472" cy="387" r="6"/></g><g id="y63"><circle class="y" cx="482" cy="388" r="6"/></g><g id="y64"><circle class="y" cx="486" cy="390" r="6"/></g><g id="y65"><circle class="y" cx="494" cy="382" r="6"/></g>
</g>
<g id="legend" font-family="'Liberation Serif', 'Times New Roman', serif">
<circle class="o" cx="21" cy="624" r="6"/><text class="lg" x="45" y="630" font-family="'Liberation Serif', 'Times New Roman', serif">Indignation</text>
<circle class="g" cx="21" cy="652" r="6"/><text class="lg" x="45" y="658" font-family="'Liberation Serif', 'Times New Roman', serif">Sober</text>
<circle class="b" cx="22" cy="680" r="6"/><text class="lg" x="45" y="686" font-family="'Liberation Serif', 'Times New Roman', serif">Excited</text>
<circle class="y" cx="22" cy="709" r="6"/><text class="lg" x="45" y="715" font-family="'Liberation Serif', 'Times New Roman', serif">Criticism</text>
<circle class="p" cx="22" cy="736" r="9.5"/><text class="lg" x="45" y="743" font-family="'Liberation Serif', 'Times New Roman', serif">Dispointement</text>
</g>
</svg>
